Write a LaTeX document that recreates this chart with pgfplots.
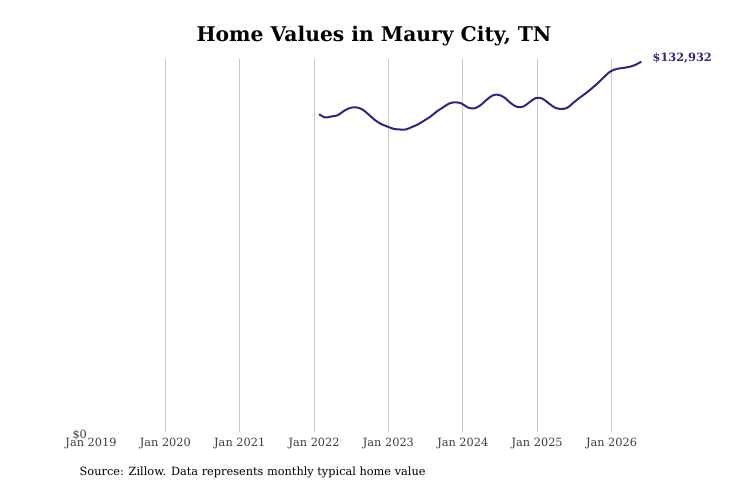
\documentclass[border=0pt]{standalone}
\usepackage{pgfplots}
\pgfplotsset{compat=1.18}
\usepackage{fontspec}
\setmainfont{DejaVu Serif}
\usetikzlibrary{calc}
\definecolor{lineblue}{RGB}{45,40,125}
\definecolor{gridgray}{RGB}{200,200,200}
\definecolor{ticktext}{RGB}{60,60,60}

\pgfplotstableread{
t value
2022.067 114054
2022.150 112906
2022.233 113265
2022.317 113695
2022.400 115239
2022.483 116316
2022.567 116567
2022.650 115778
2022.733 113983
2022.817 112008
2022.900 110572
2022.983 109675
2023.067 108849
2023.150 108598
2023.233 108598
2023.317 109495
2023.400 110464
2023.483 111829
2023.567 113265
2023.650 115060
2023.733 116496
2023.817 117932
2023.900 118362
2023.983 117932
2024.067 116496
2024.150 116137
2024.233 117214
2024.317 119188
2024.400 120804
2024.483 121055
2024.567 119906
2024.650 117932
2024.733 116675
2024.817 116855
2024.900 118470
2024.983 119906
2025.067 119727
2025.150 118111
2025.233 116496
2025.317 115957
2025.400 116316
2025.483 118111
2025.567 119906
2025.650 121522
2025.733 123317
2025.817 125291
2025.900 127445
2025.983 129420
2026.067 130317
2026.150 130676
2026.233 131035
2026.317 131753
2026.400 132932
}\homevalues

\begin{document}
\begin{tikzpicture}
\begin{axis}[
    name=ax,
    scale only axis,
    width=415.5pt, height=279.75pt,
    xmin=2019, xmax=2026.45,
    ymin=0, ymax=133900,
    scaled y ticks=false,
    axis line style={draw=none},
    tick style={draw=none},
    xtick={2019,2020,2021,2022,2023,2024,2025,2026},
    xticklabels={Jan 2019,Jan 2020,Jan 2021,Jan 2022,Jan 2023,Jan 2024,Jan 2025,Jan 2026},
    extra x ticks={2020,2021,2022,2023,2024,2025,2026},
    extra x tick labels={},
    extra x tick style={grid=major, major grid style={gridgray, line width=0.8pt}},
    ytick={0},
    yticklabels={\$0},
    yticklabel style={xshift=0.5pt, yshift=-2pt},
    ticklabel style={font=\fontsize{8.5}{10}\selectfont, text=ticktext},
    xticklabel style={yshift=-1pt},
    clip=false,
]
\addplot[lineblue, line width=1.5pt, smooth, tension=0.5] table[x=t, y=value] {\homevalues};
\node[anchor=west, font=\bfseries\fontsize{8.5}{10}\selectfont, text=lineblue] at (axis cs:2026.4,132932) [xshift=5pt, yshift=3pt] {\$132,932};
\end{axis}
\node[font=\bfseries\fontsize{15.2}{18}\selectfont] at ($(ax.north)+(4.5pt,17pt)$) {Home Values in Maury City, TN};
\node[anchor=west, font=\fontsize{8.5}{10}\selectfont] at ($(ax.south west)+(-12pt,-30pt)$) {Source: Zillow. Data represents monthly typical home value};
\path[use as bounding box] ($(ax.south west)+(-68.25pt,-41.25pt)$) rectangle ($(ax.north east)+(64.5pt,44.25pt)$);
\end{tikzpicture}
\end{document}
